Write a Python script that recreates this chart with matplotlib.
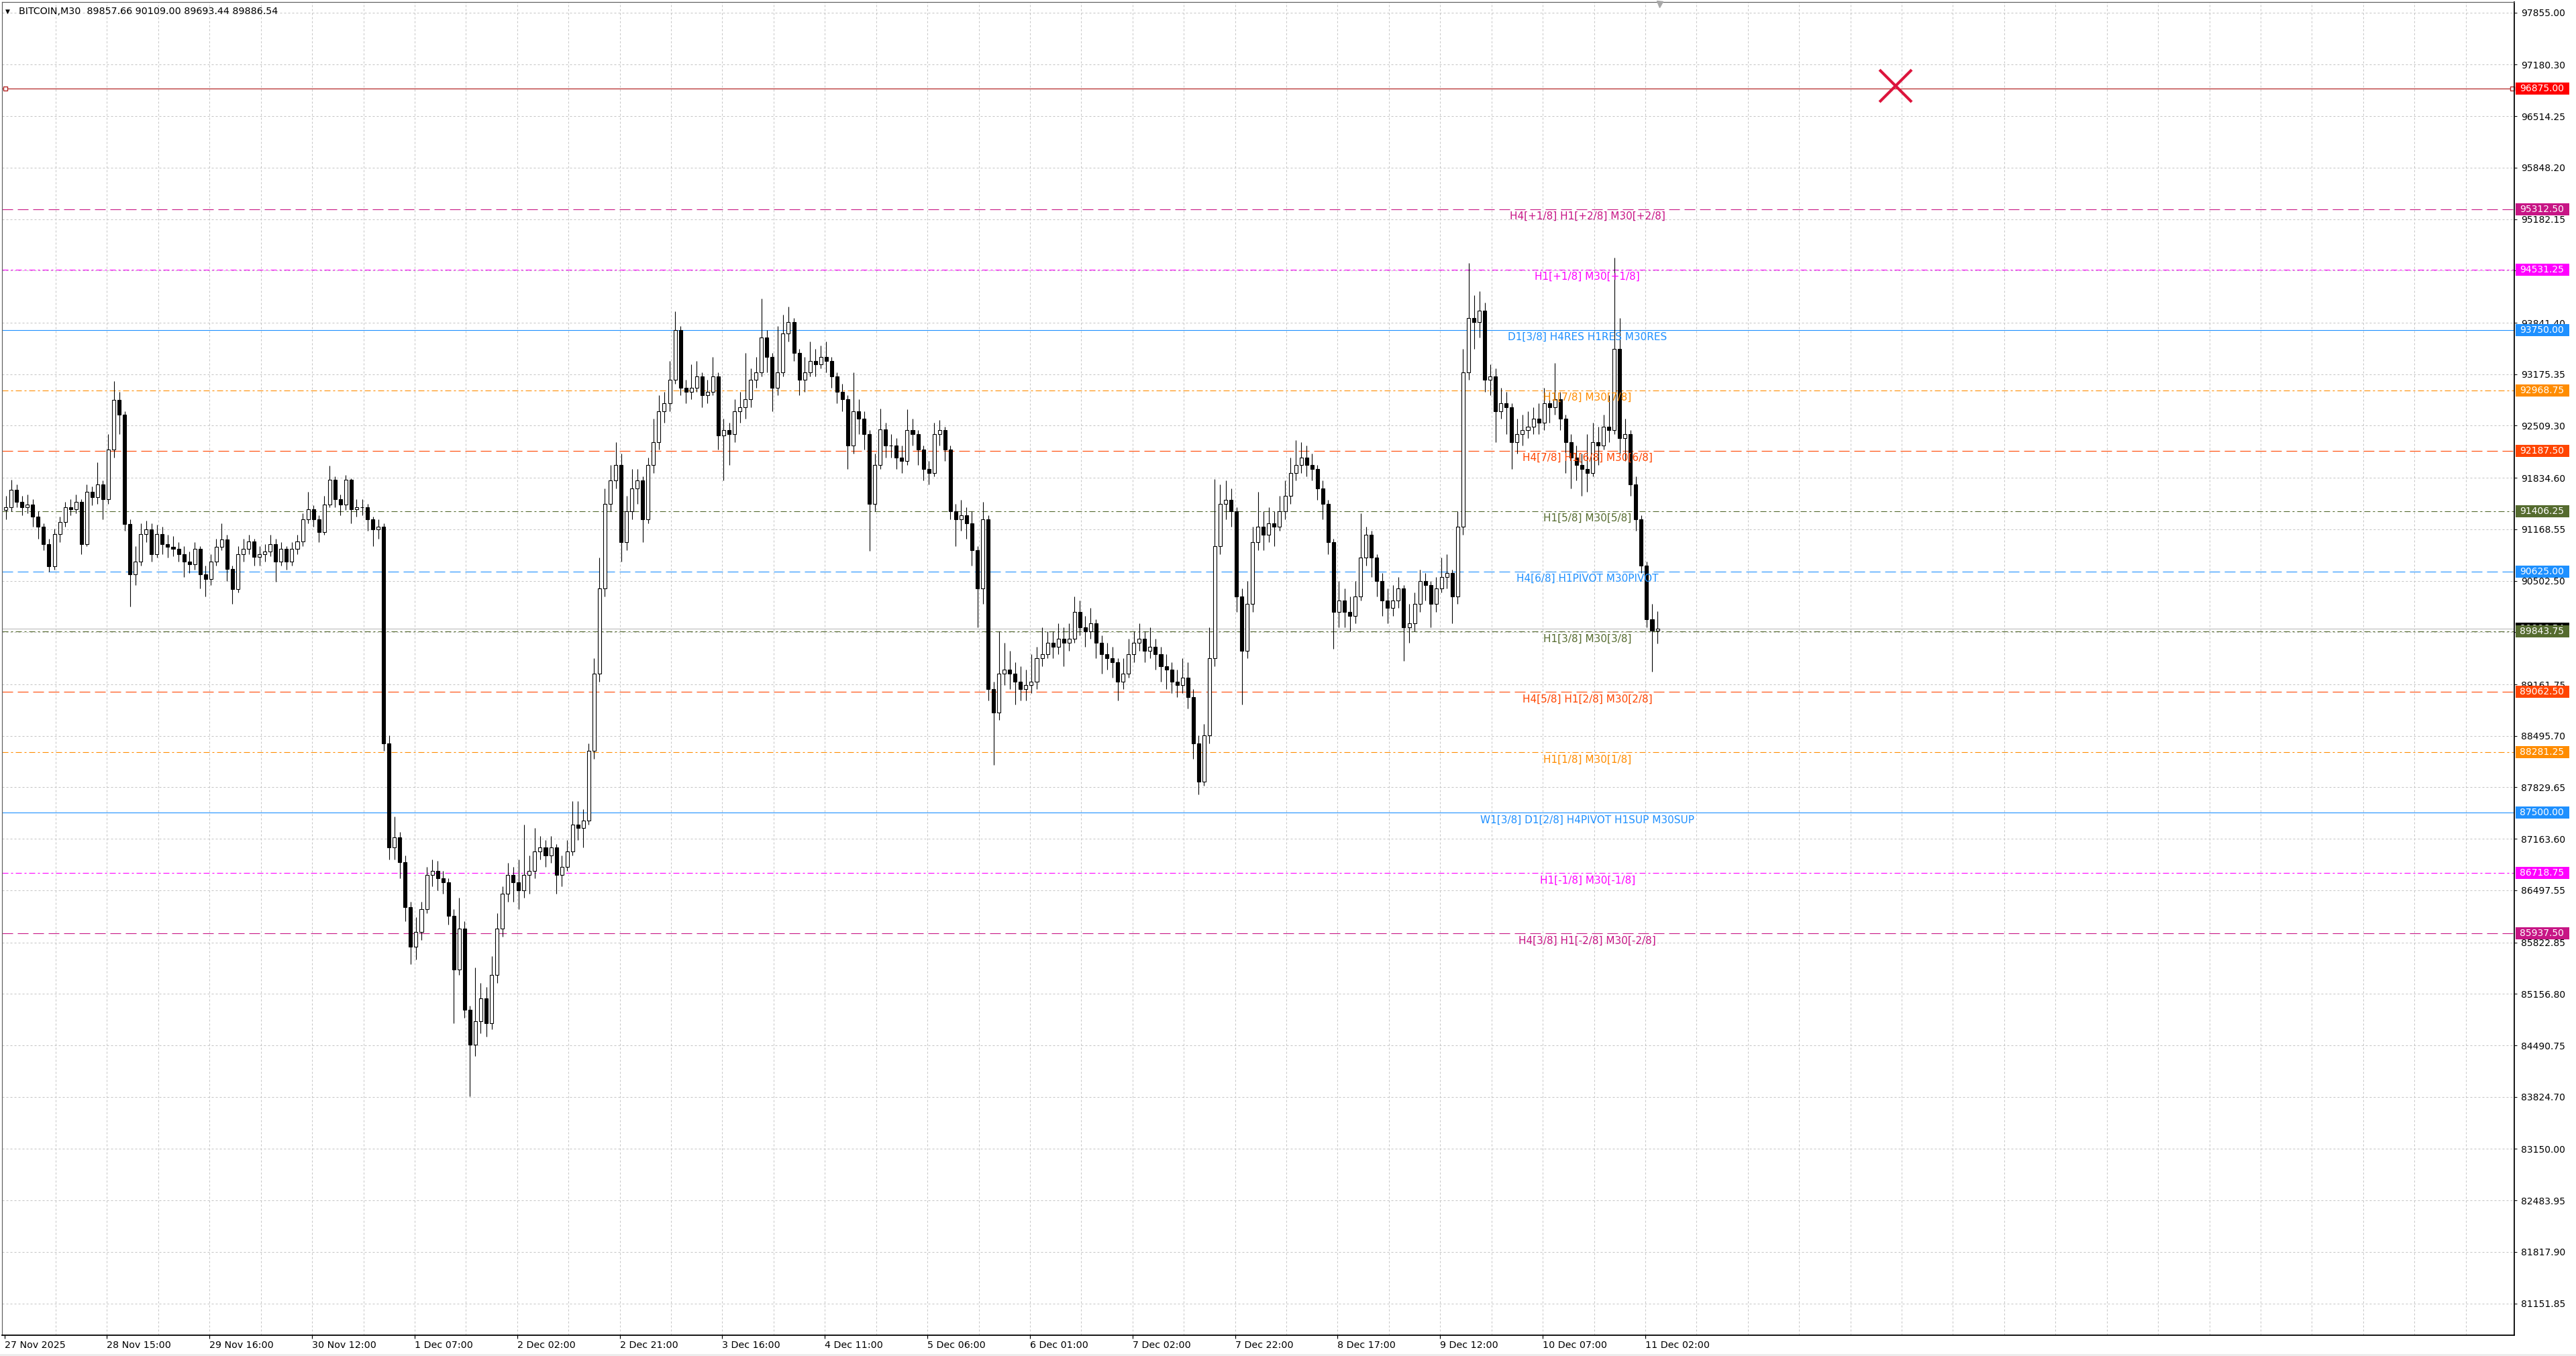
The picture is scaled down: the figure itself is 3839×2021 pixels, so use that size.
import matplotlib
matplotlib.use("Agg")
import matplotlib.pyplot as plt
import matplotlib.transforms as mtrans
from matplotlib.patches import Rectangle
import numpy as np

plt.rcParams['font.family'] = ['DejaVu Sans']
plt.rcParams['lines.scale_dashes'] = False

# ---------------- data ----------------
title_text = "BITCOIN,M30  89857.66 90109.00 89693.44 89886.54"

first_open = 91420
closes = [
    91458, 91683, 91523, 91458, 91490, 91330, 91201, 90976, 90687, 91105,
    91265, 91458, 91426, 91523, 90976, 91651, 91587, 91748, 91555, 92198,
    92841, 92648, 91233, 90590, 90751, 91105, 91169, 90847, 91105, 90976,
    90944, 90912, 90847, 90751, 90719, 90912, 90590, 90526, 90751, 90944,
    91040, 90654, 90397, 90847, 90912, 91008, 90815, 90847, 90880, 90976,
    90751, 90912, 90751, 90912, 91008, 91298, 91426, 91298, 91137, 91490,
    91812, 91555, 91490, 91812, 91426, 91458, 91458, 91298, 91169, 91201,
    88400, 87053, 87182, 86860, 86281, 85767, 85960, 86250, 86700, 86750,
    86650, 86600, 86170, 85472, 86000, 84949, 84500, 84800, 85100, 84774,
    85400, 86000, 86450, 86700, 86600, 86500, 86700, 86750, 87000, 87050,
    86950, 87050, 86700, 86800, 87000, 87350, 87300, 87400, 88300, 89300,
    90400, 91500, 91800, 92000, 91000, 91400, 91700, 91800, 91300, 92000,
    92300, 92700, 92800, 93100, 93750, 93000, 92950, 93000, 93150, 92900,
    92950, 93150, 92380, 92450, 92400, 92700, 92750, 92850, 93100, 93200,
    93650, 93400, 93000, 93200, 93700, 93850, 93450, 93100, 93200, 93350,
    93300, 93400, 93350, 93150, 92950, 92850, 92250, 92700, 92600, 92400,
    91500, 92000, 92460, 92250, 92250, 92100, 92050, 92450, 92400, 92200,
    91950, 91900, 92400, 92450, 92200, 91400, 91300, 91350, 91250, 90900,
    90400, 91300, 89100, 88800, 89300, 89350, 89300, 89200, 89100, 89150,
    89200, 89500, 89550, 89700, 89650, 89750, 89700, 89750, 90100, 89900,
    89850, 89950, 89700, 89550, 89500, 89450, 89200, 89300, 89550, 89700,
    89750, 89600, 89650, 89550, 89400, 89350, 89200, 89150, 89250, 89000,
    88400, 87900, 88500, 89500, 90950, 91500, 91550, 91400, 90300, 89600,
    90200, 91000, 91200, 91100, 91250, 91200, 91400, 91600, 91900, 92000,
    92100, 92000, 91950, 91700, 91500, 91000, 90100, 90250, 90100, 90050,
    90300, 90800, 91100, 90800, 90500, 90250, 90150, 90250, 90400, 89900,
    89950, 90200, 90500, 90450, 90200, 90400, 90550, 90600, 90300, 91200,
    93200, 93900, 93850, 94000, 93100, 93150, 92700, 92800, 92750, 92300,
    92400, 92450, 92500, 92600, 92550, 92800, 92750, 92850, 92600, 92300,
    92100, 92000, 91950, 91900, 92300, 92250, 92500, 92450, 93500, 92350,
    92400, 91750, 91300, 90700, 90000, 89857.66, 89886.54,
]
highs = [
    91600, 91812, 91750, 91600, 91620, 91560, 91400, 91250, 91050, 91180,
    91330, 91520, 91560, 91620, 91560, 91750, 91720, 92037, 91800, 92400,
    93085, 92950, 92700, 91300, 90950, 91250, 91280, 91250, 91230, 91200,
    91100, 91080, 91000, 90950, 90880, 91000, 90950, 90700, 90850, 91050,
    91250, 91100, 90700, 90950, 91050, 91100, 91050, 90950, 90980, 91100,
    91050, 91000, 90950, 91000, 91100, 91380, 91650, 91480, 91350, 91600,
    91992, 91850, 91620, 91870, 91830, 91560, 91560, 91500, 91330, 91300,
    91250, 88500, 87450, 87250, 86950, 86350, 86150, 86350, 86800, 86900,
    86880, 86750, 86650, 86250, 86400, 86100, 85000, 85500, 85300, 85250,
    85650, 86200, 86550, 86850, 86800, 86900, 87350, 86950, 87300, 87200,
    87150, 87200, 87100, 86950, 87150, 87650, 87650, 87550, 88400, 89500,
    90800, 91700, 92000, 92300, 92150, 91600, 91950, 91950, 91850, 92100,
    92600, 92900, 92950, 93350, 93990, 93800, 93100, 93300, 93350, 93200,
    93100, 93400, 93200, 92600, 92550, 92850, 92950, 93450, 93250, 93400,
    94150, 93750, 93450, 93800, 93950, 94050, 93900, 93500, 93400, 93600,
    93500, 93550, 93600, 93400, 93200, 93050, 92900, 93200, 92850, 92700,
    92450, 92150, 92730, 92550, 92400, 92350, 92250, 92720, 92600, 92450,
    92250, 92050, 92550, 92580, 92500, 92250, 91500, 91550, 91450, 91400,
    90950, 91520, 91350, 89200, 89850, 89700, 89600, 89450, 89400, 89350,
    89550, 89650, 89900, 89850, 89850, 89950, 89900, 89950, 90300, 90250,
    90050, 90150, 90000, 89800, 89700, 89650, 89500, 89500, 89750, 89850,
    89950, 89850, 89900, 89750, 89650, 89550, 89450, 89350, 89500, 89450,
    89100, 88500, 88650, 89900, 91820, 91750, 91800, 91700, 91450, 90400,
    90500, 91200, 91650, 91400, 91450, 91400, 91600, 91800, 92100, 92320,
    92300, 92250, 92150, 92000, 91800, 91550, 91050, 90500, 90400, 90300,
    90500, 91374, 91200, 91150, 90850, 90600, 90400, 90450, 90550, 90450,
    90200, 90350, 90650, 90600, 90500, 90550, 90800, 90850, 90650, 91400,
    93500, 94614, 94200, 94250, 94100, 93300, 93250, 93000, 92950, 92800,
    92600, 92650, 92700, 92750, 92800, 93000, 92950, 93320, 92950, 92650,
    92400, 92250, 92150, 92400, 92550, 92500, 92650, 92900, 94680, 93900,
    92600, 92450, 91850, 91350, 90750, 90200, 90109.00,
]
lows = [
    91300, 91400, 91450, 91350, 91380, 91200, 91050, 90900, 90622, 90650,
    91000, 91200, 91350, 91380, 90848, 90950, 91480, 91500, 91300, 91500,
    92100, 92400, 91150, 90172, 90450, 90700, 91000, 90750, 90800, 90850,
    90800, 90820, 90750, 90550, 90600, 90650, 90400, 90300, 90450, 90700,
    90900, 90500, 90204, 90350, 90750, 90850, 90700, 90700, 90750, 90820,
    90490, 90700, 90650, 90700, 90850, 90950, 91250, 91200, 91000, 91100,
    91450, 91450, 91350, 91420, 91250, 91330, 91350, 91150, 90950, 91050,
    88300, 86900, 86900, 86650, 86100, 85542, 85600, 85850, 86200, 86550,
    86500, 86450, 86050, 84774, 85400, 84850, 83832, 84350, 84650, 84600,
    84700, 85300, 85900, 86350, 86350, 86250, 86400, 86450, 86650, 86900,
    86800, 86850, 86450, 86550, 86750, 86950, 87150, 87050, 87350, 88200,
    89200, 90300, 91400, 91700, 90750, 90900, 91300, 91500, 91000, 91250,
    91900, 92200, 92550, 92700, 93050, 92900, 92800, 92850, 92950, 92750,
    92800, 92900, 92200, 91800, 92000, 92300, 92550, 92600, 92750, 93000,
    93150, 93200, 92700, 92900, 93150, 93600, 93350, 92900, 92950, 93150,
    93150, 93250, 93200, 93000, 92800, 92700, 91950, 92150, 92400, 92200,
    90890, 91400, 91950, 92100, 92100, 91950, 91900, 92000, 92250, 92000,
    91800, 91750, 91850, 92250, 92050, 91300, 90950, 91150, 91050, 90700,
    89900, 90200, 88950, 88120, 88700, 89150, 89100, 88900, 88950, 88950,
    89050, 89100, 89400, 89500, 89500, 89550, 89400, 89600, 89700, 89800,
    89650, 89750, 89500, 89300, 89350, 89250, 88950, 89100, 89250, 89450,
    89600, 89450, 89500, 89350, 89200, 89100, 89050, 89000, 89050, 88850,
    88200, 87734, 87850, 88400, 89400, 90850, 91300, 91200, 90100, 88900,
    89500, 90100, 90900, 90900, 91000, 90950, 91150, 91300, 91500, 91800,
    91900, 91850, 91800, 91550, 91300, 90850, 89620, 89900, 89900, 89850,
    89950, 90250, 90700, 90550, 90300, 90050, 89950, 90050, 90150, 89470,
    89700, 89850, 90100, 90250, 89900, 90100, 90350, 90400, 89950, 90200,
    91100, 93100, 93500, 93650, 92950, 92900, 92300, 92600, 92400, 91950,
    92150, 92250, 92350, 92400, 92400, 92450, 92550, 92650, 92450, 91900,
    91700, 91800, 91600, 91650, 91850, 92000, 92200, 92300, 92400, 92150,
    92050, 91600, 91150, 90600, 89900, 89330, 89693.44,
]

x_tick_labels = ["27 Nov 2025", "28 Nov 15:00", "29 Nov 16:00", "30 Nov 12:00",
                 "1 Dec 07:00", "2 Dec 02:00", "2 Dec 21:00", "3 Dec 16:00",
                 "4 Dec 11:00", "5 Dec 06:00", "6 Dec 01:00", "7 Dec 02:00",
                 "7 Dec 22:00", "8 Dec 17:00", "9 Dec 12:00", "10 Dec 07:00",
                 "11 Dec 02:00"]

y_ticks = [97855.00, 97180.30, 96514.25, 95848.20, 95182.15, 94516.10, 93841.40,
           93175.35, 92509.30, 91834.60, 91168.55, 90502.50, 89836.45, 89161.75,
           88495.70, 87829.65, 87163.60, 86497.55, 85822.85, 85156.80, 84490.75,
           83824.70, 83150.00, 82483.95, 81817.90, 81151.85]

level_prices = [95312.50, 94531.25, 93750.00, 92968.75, 92187.50, 91406.25,
                90625.00, 89843.75, 89062.50, 88281.25, 87500.00, 86718.75, 85937.50]
level_labels = ["H4[+1/8] H1[+2/8] M30[+2/8]", "H1[+1/8] M30[+1/8]",
                "D1[3/8] H4RES H1RES M30RES", "H1[7/8] M30[7/8]",
                "H4[7/8] H1[6/8] M30[6/8]", "H1[5/8] M30[5/8]",
                "H4[6/8] H1PIVOT M30PIVOT", "H1[3/8] M30[3/8]",
                "H4[5/8] H1[2/8] M30[2/8]", "H1[1/8] M30[1/8]",
                "W1[3/8] D1[2/8] H4PIVOT H1SUP M30SUP", "H1[-1/8] M30[-1/8]",
                "H4[3/8] H1[-2/8] M30[-2/8]"]
level_colors = ["#C71585", "#FF00FF", "#1E90FF", "#FF8C00", "#FF4500", "#556B2F",
                "#1E90FF", "#556B2F", "#FF4500", "#FF8C00", "#1E90FF", "#FF00FF",
                "#C71585"]
level_styles = ["dash", "dashdot", "solid", "dashdot", "dash", "dashdot", "dash",
                "dashdot", "dash", "dashdot", "solid", "dashdot", "dash"]

marked_price = 96875.00
bid_price = 89886.54
cross_point = (700.7, 96910.0)

# ---------------- figure ----------------
W, H = 3839, 2021
DPI = 100
fig = plt.figure(figsize=(W / DPI, H / DPI), dpi=DPI)
fig.patch.set_facecolor("white")

ax_l, ax_r, ax_t, ax_b = 3, 3747, 3, 1990
ax = fig.add_axes([ax_l / W, 1 - ax_b / H, (ax_r - ax_l) / W, (ax_b - ax_t) / H])
ax.set_facecolor("white")

px = 0.72  # points per pixel
XMIN, XMAX = -0.9, 930.0
YMIN, YMAX = 80740.6, 97991.7
ax.set_xlim(XMIN, XMAX)
ax.set_ylim(YMIN, YMAX)

grid_kw = dict(color="#c4c4c4", lw=1.0 * px, linestyle=(0, (3 * px, 3 * px)), zorder=0.5)
for yt in y_ticks:
    ax.axhline(yt, **grid_kw)
for j in range(1, 49):
    ax.axvline(19 * j, **grid_kw)

dash_styles = {
    "dash": (0, (16 * px, 7 * px)),
    "dashdot": (0, (9 * px, 4 * px, 3 * px, 4 * px)),
    "solid": "-",
}

# marked red line
ax.axhline(marked_price, color="#b22222", lw=1.2 * px, zorder=1.5)
ax.plot([0.3, 929.2], [marked_price, marked_price], linestyle="none", marker="s",
        ms=6 * px, mfc="white", mec="#b22222", mew=1.0, zorder=1.6, clip_on=False)

# bid line
ax.axhline(bid_price, color="#c0c0c0", lw=1.2 * px, zorder=1.4)

# level lines + labels
label_x = 586.6
for p, lab, col, st in zip(level_prices, level_labels, level_colors, level_styles):
    ax.axhline(p, color=col, lw=1.1 * px, linestyle=dash_styles[st], zorder=1.5)
    ax.annotate(lab, xy=(label_x, p), xytext=(0, -2.5), textcoords="offset points",
                ha="center", va="top", color=col, fontsize=11, zorder=5)

# candles
closes_a = np.array(closes, dtype=float)
opens_a = np.concatenate([[first_open], closes_a[:-1]])
highs_a = np.array(highs, dtype=float)
lows_a = np.array(lows, dtype=float)
xs = 2 * np.arange(len(closes_a)) + 0.5
ax.vlines(xs, lows_a, highs_a, color="black", lw=1.1 * px, zorder=3)
bull = closes_a >= opens_a
body_bottom = np.minimum(opens_a, closes_a)
body_h = np.abs(closes_a - opens_a)
ax.bar(xs[bull], body_h[bull], bottom=body_bottom[bull], width=1.25,
       facecolor="white", edgecolor="black", linewidth=1.1 * px, zorder=3.2)
ax.bar(xs[~bull], body_h[~bull], bottom=body_bottom[~bull], width=1.25,
       facecolor="black", edgecolor="black", linewidth=1.1 * px, zorder=3.2)

# red cross object
ax.plot([cross_point[0]], [cross_point[1]], marker="x", ms=34, mew=3.0,
        color="#DC143C", linestyle="none", zorder=6)

# chart-shift triangle at the top
trans_xa = mtrans.blended_transform_factory(ax.transData, ax.transAxes)
ax.plot([613.2], [0.9985], marker="v", ms=9 * px, color="#a8a8a8",
        transform=trans_xa, clip_on=False, zorder=6)

# axes styling
for s in ["left", "top"]:
    ax.spines[s].set_linewidth(1.2 * px)
    ax.spines[s].set_color("#606060")
for s in ["right", "bottom"]:
    ax.spines[s].set_linewidth(1.8 * px)
    ax.spines[s].set_color("black")

ax.yaxis.tick_right()
ax.set_yticks(y_ticks)
ax.set_yticklabels(["%.2f" % v for v in y_ticks])
ax.tick_params(axis="y", direction="out", length=4 * px, width=1.0 * px, pad=6 * px,
               labelsize=10, colors="black", left=False)
ax.set_xticks([38 * k for k in range(len(x_tick_labels))])
ax.set_xticklabels(x_tick_labels)
ax.tick_params(axis="x", direction="out", length=5 * px, width=1.2 * px, pad=3 * px,
               labelsize=10.3, colors="black", top=False)
for t in ax.get_xticklabels():
    t.set_horizontalalignment("left")

# price boxes on the right
trans_ay = mtrans.blended_transform_factory(ax.transAxes, ax.transData)
axw = ax_r - ax_l
box_x0 = (3749 - ax_l) / axw
box_w = 80 / axw
box_half = 9 * (YMAX - YMIN) / (ax_b - ax_t)
text_x = (3755 - ax_l) / axw


def price_box(price, color, z):
    ax.add_patch(Rectangle((box_x0, price - box_half), box_w, 2 * box_half,
                           transform=trans_ay, facecolor=color, edgecolor="none",
                           clip_on=False, zorder=z))
    ax.text(text_x, price, "%.2f" % price, transform=trans_ay, color="white",
            fontsize=10, va="center", ha="left", clip_on=False, zorder=z + 0.1)


price_box(marked_price, "#FF0000", 7)
price_box(bid_price, "#000000", 7)
z = 8
for p, col in zip(level_prices, level_colors):
    price_box(p, col, z)
    z += 0.2

# title
fig.text(8 / W, 1 - 17 / H, "\u25BC", fontsize=6.5, va="center", ha="left", color="black")
fig.text(28 / W, 1 - 17 / H, title_text, fontsize=10.3, va="center", ha="left", color="black")

# bottom window strip
fig.patches.append(Rectangle((0, 0), 1, 3 / H, transform=fig.transFigure,
                             facecolor="#ececec", edgecolor="none"))

fig.savefig("out.png", dpi=DPI, facecolor="white")
